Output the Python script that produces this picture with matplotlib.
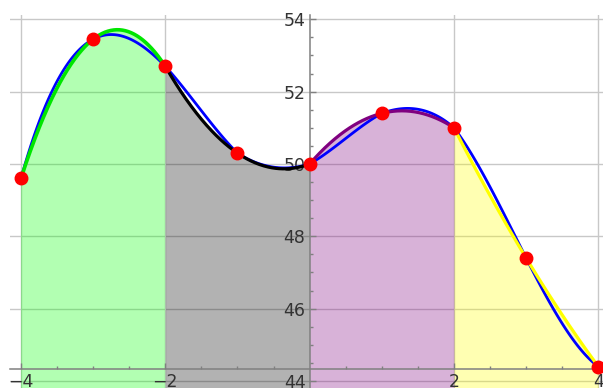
import numpy as np
import matplotlib
matplotlib.use("Agg")
import matplotlib.pyplot as plt
from matplotlib.ticker import FixedLocator

# sample points
x_pts = [-4, -3, -2, -1, 0, 1, 2, 3, 4]
y_pts = [49.6, 53.45, 52.7, 50.3, 50.0, 51.4, 51.0, 47.4, 44.4]

# one quadratic panel per pair of intervals (Simpson's rule)
panel_colors = ["#00e600", "black", "purple", "yellow"]
fill_colors = [(0, 1, 0, 0.3), (0, 0, 0, 0.3), (0.5, 0, 0.5, 0.3), (1, 1, 0, 0.3)]

x_major = [-4, -2, 2, 4]
y_major = [44, 46, 48, 50, 52, 54]

X0, X1 = -4.152, 4.065
Y0, Y1 = 43.806, 54.119
AXIS_Y = 44.33

xp = np.array(x_pts, dtype=float)
yp = np.array(y_pts, dtype=float)

fig = plt.figure(figsize=(6.03, 3.88), dpi=100)
ax = fig.add_axes([10 / 603, 0, 593 / 603, 373 / 388])
ax.set_xlim(X0, X1)
ax.set_ylim(Y0, Y1)

# grid lines under the translucent fills
for v in x_major:
    ax.axvline(v, color="#c8c8c8", lw=1.0, zorder=0)
for v in y_major:
    ax.axhline(v, color="#c8c8c8", lw=1.0, zorder=0)

# quadratic panels with filling to the bottom
for i in range(4):
    xs = xp[2 * i:2 * i + 3]
    ys = yp[2 * i:2 * i + 3]
    c = np.polyfit(xs, ys, 2)
    xx = np.linspace(xs[0], xs[-1], 200)
    yy = np.polyval(c, xx)
    ax.fill_between(xx, yy, Y0 - 1, color=fill_colors[i], linewidth=0, zorder=1)
    ax.plot(xx, yy, color=panel_colors[i], lw=2.6 if i == 0 else 2.3, zorder=4,
            solid_capstyle="butt")

# blue piecewise cubic interpolation through the samples
for k in range(len(xp) - 1):
    s = min(max(k - 1, 0), len(xp) - 4)
    c = np.polyfit(xp[s:s + 4], yp[s:s + 4], 3)
    xx = np.linspace(xp[k], xp[k + 1], 60)
    ax.plot(xx, np.polyval(c, xx), color="blue", lw=2.0, zorder=3)

ax.plot(xp, yp, "o", color="red", markersize=9, zorder=6, clip_on=False)

# axes crossing inside the frame
for side in ["top", "right"]:
    ax.spines[side].set_visible(False)
ax.spines["left"].set_position(("data", 0))
ax.spines["bottom"].set_position(("data", AXIS_Y))
for side in ["left", "bottom"]:
    ax.spines[side].set_color("#808080")
    ax.spines[side].set_linewidth(1.1)
    ax.spines[side].set_zorder(5)

ax.set_axisbelow(False)
ax.set_xticks(x_major)
ax.set_xticklabels([str(v).replace("-", "\u2212") for v in x_major])
ax.set_yticks(y_major)
ax.set_yticklabels([str(v) for v in y_major])
ax.xaxis.set_minor_locator(FixedLocator([v / 2 for v in range(-8, 9) if v % 4 != 0]))
ax.yaxis.set_minor_locator(FixedLocator([44 + v / 2 for v in range(0, 21) if v % 4 != 0]))
ax.tick_params(which="major", direction="in", length=4.5, width=1, color="#808080",
               labelsize=12.5, labelcolor="#333333", pad=3)
ax.tick_params(which="minor", direction="in", length=2.5, width=1, color="#808080")

fig.savefig("out.png", dpi=100)
